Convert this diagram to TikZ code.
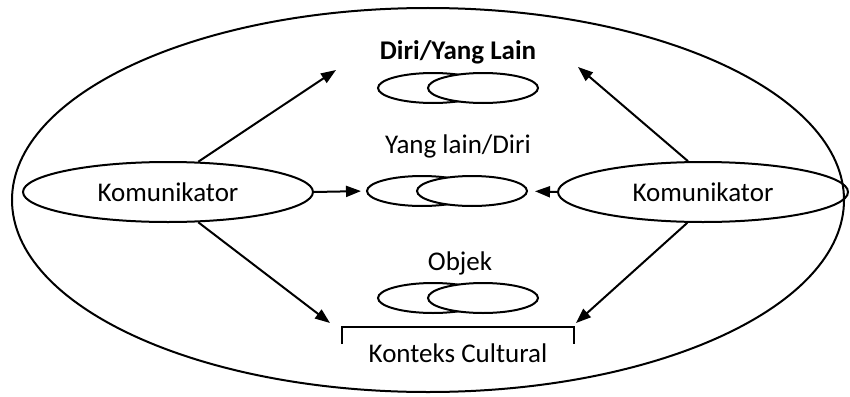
\documentclass[tikz,border=0pt]{standalone}
\usepackage{fontspec}
\setmainfont{Carlito}
\usetikzlibrary{shapes.geometric,arrows.meta}
\begin{document}
\begin{tikzpicture}[x=1pt,y=-1pt,
  line/.style={line width=2pt},
  arr/.style={line, -{Triangle[length=15pt,width=11pt]}},
  actor/.style={draw, line width=2pt, ellipse, minimum width=290pt, minimum height=60pt, inner sep=0pt, font=\fontsize{27}{30}\selectfont},
  lens/.style={draw, line width=2pt, ellipse, minimum width=110pt, minimum height=30pt, inner sep=0pt, fill=white},
  lbl/.style={font=\fontsize{27}{30}\selectfont, inner sep=0pt}]
\useasboundingbox (0,0) rectangle (850,396);
% outer frame
\node[draw, line width=2pt, ellipse, minimum width=832pt, minimum height=384pt] (frame) at (428,200) {};
% communicators
\node[actor] (kl) at (168,192) {Komunikator};
\node[actor] (kr) at (703,192) {Komunikator};
% self / other
\node[lbl, font=\fontsize{27}{30}\selectfont\bfseries] (t1) at (458,52) {Diri/Yang Lain};
\node[lens] (d1) at (433,88) {};
\node[lens] (d2) at (483,88) {};
% other / self
\node[lbl] (t2) at (458,146) {Yang lain/Diri};
\node[lens] (m1) at (422,191) {};
\node[lens] (m2) at (472,191) {};
% object
\node[lbl] (t3) at (460,263) {Objek};
\node[lens] (o1) at (433,298) {};
\node[lens] (o2) at (483,298) {};
% cultural context bracket
\coordinate (kc1) at (342,344);
\coordinate (kc2) at (574,344);
\coordinate (kt1) at (342,327);
\coordinate (kt2) at (574,327);
\draw[line] (kc1) -- (kt1) -- (kt2) -- (kc2);
\node[lbl] (t4) at (458,353) {Konteks Cultural};
% arrow targets
\coordinate (aL1) at (336,70);
\coordinate (aR1) at (578,67);
\coordinate (aL3) at (330,323);
\coordinate (aR3) at (576,323);
% arrows
\draw[arr] (kl.45) -- (aL1);
\draw[arr, shorten >=5pt] (kl.east) -- (m1.west);
\draw[arr] (kl.-45) -- (aL3);
\draw[arr] (kr.116) -- (aR1);
\draw[arr, shorten >=7pt] (kr.west) -- (m2.east);
\draw[arr] (kr.-117) -- (aR3);
\end{tikzpicture}
\end{document}
